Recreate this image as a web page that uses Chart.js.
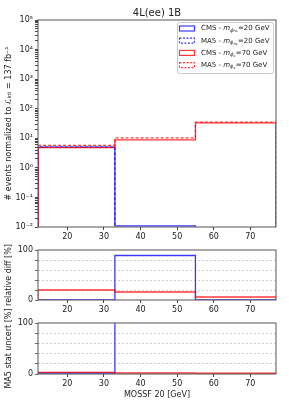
<!DOCTYPE html>
<html>
<head>
<meta charset="utf-8">
<script src="https://cdn.jsdelivr.net/npm/chart.js@4"></script>
<style>
    body { margin: 0; background: #fff; width: 289px; height: 417px; overflow: hidden; position: relative; }
    canvas { position: absolute; left: 0; }
</style>
</head>
<body>
<canvas id="mainChart" width="289" height="245" style="top:0px"></canvas>
<canvas id="diffChart" width="289" height="82" style="top:236px"></canvas>
<canvas id="statChart" width="289" height="95" style="top:306px"></canvas>
<script>
// bin edges of MOSSF 20 [GeV]
const binEdges = [12, 33, 55, 77];
const xTicks = [20, 30, 40, 50, 60, 70];

// events per bin (0 = empty bin)
const cms20 = [5.0, 0.011, 0];
const ma520 = [5.0, 0.0012, 0];
const cms70 = [4.8, 8.9, 33];
const ma570 = [5.8, 10.3, 35];

// relative difference [%]
const relDiff20 = [0, 89, 0];
const relDiff70 = [20, 16, 6];

// MA5 stat uncertainty [%] (second bin of 20 GeV is off the scale, third undefined)
const statUnc20 = [2, 1000, null];
const statUnc70 = [3.3, 2, 1.5];

const seriesNames = ['CMS', 'MA5', 'CMS', 'MA5'];
const seriesMass = [20, 20, 70, 70];
const seriesSub = ['hs', 'hs', 's', 's'];

const BLUE = 'rgba(0,0,255,0.78)';
const RED = 'rgba(255,0,0,0.78)';
const FONT = 'DejaVu Sans';

Chart.defaults.font.family = FONT;
Chart.defaults.font.size = 8;
Chart.defaults.color = '#222';

// turn bin contents into step outline points
function stepPoints(vals, floor) {
    const pts = [{ x: binEdges[0], y: floor }];
    let last = null;
    for (let i = 0; i < vals.length; i++) {
        if (vals[i] === null) return pts;
        const v = vals[i] === 0 ? floor : vals[i];
        pts.push({ x: binEdges[i], y: v });
        last = v;
    }
    pts.push({ x: binEdges[binEdges.length - 1], y: last });
    pts.push({ x: binEdges[binEdges.length - 1], y: floor });
    return pts;
}

function stepSet(vals, floor, color, dashed, order) {
    return {
        data: stepPoints(vals, floor),
        borderColor: color,
        backgroundColor: 'rgba(0,0,0,0)',
        borderWidth: 1.3,
        borderDash: dashed ? [3, 2] : [],
        pointRadius: 0,
        fill: false,
        stepped: 'before',
        order: order
    };
}

const sup = { '-': '⁻', '0': '⁰', '1': '¹', '2': '²', '3': '³', '4': '⁴', '5': '⁵' };
function logLabel(v) {
    const e = Math.round(Math.log10(v));
    if (Math.abs(v - Math.pow(10, e)) > 1e-9 * v) return '';
    return '10' + String(e).split('').map(c => sup[c]).join('');
}

const framePlugin = {
    id: 'frame',
    afterDraw(chart) {
        const a = chart.chartArea;
        const ctx = chart.ctx;
        ctx.save();
        ctx.strokeStyle = '#555';
        ctx.lineWidth = 1;
        ctx.setLineDash([]);
        ctx.strokeRect(a.left, a.top, a.right - a.left, a.bottom - a.top);
        ctx.restore();
    }
};

// title centred over the plot area, like matplotlib
const titlePlugin = {
    id: 'axTitle',
    afterDraw(chart) {
        const a = chart.chartArea;
        const ctx = chart.ctx;
        ctx.save();
        ctx.font = '10px "' + FONT + '"';
        ctx.fillStyle = '#222';
        ctx.textAlign = 'center';
        ctx.textBaseline = 'middle';
        ctx.fillText('4L(ee) 1B', (a.left + a.right) / 2, 13);
        ctx.restore();
    }
};

const legendPlugin = {
    id: 'histLegend',
    afterDraw(chart) {
        const ctx = chart.ctx;
        ctx.save();
        ctx.fillStyle = 'rgba(255,255,255,0.85)';
        ctx.strokeStyle = '#ccc';
        ctx.lineWidth = 1;
        ctx.beginPath();
        ctx.roundRect(177.5, 22.5, 96, 51, 2);
        ctx.fill();
        ctx.stroke();
        ctx.textBaseline = 'middle';
        seriesNames.forEach((name, i) => {
            const cy = 28.5 + i * 12.2;
            ctx.strokeStyle = seriesMass[i] === 20 ? BLUE : RED;
            ctx.setLineDash(name === 'MA5' ? [2, 1.5] : []);
            ctx.lineWidth = 1.2;
            ctx.strokeRect(179.5, cy - 2.5, 15, 5);
            ctx.setLineDash([]);
            ctx.fillStyle = '#222';
            let x = 201;
            ctx.font = '7px "' + FONT + '"';
            const t1 = name + ' - ';
            ctx.fillText(t1, x, cy);
            x += ctx.measureText(t1).width;
            ctx.font = 'italic 7px "' + FONT + '"';
            ctx.fillText('m', x, cy);
            x += ctx.measureText('m').width;
            ctx.font = 'italic 5px "' + FONT + '"';
            ctx.fillText('ϕ', x, cy + 2);
            x += ctx.measureText('ϕ').width;
            ctx.font = 'italic 3.5px "' + FONT + '"';
            ctx.fillText(seriesSub[i], x, cy + 3);
            x += ctx.measureText(seriesSub[i]).width + 0.5;
            ctx.font = '7px "' + FONT + '"';
            ctx.fillText('=' + seriesMass[i] + ' GeV', x, cy);
        });
        ctx.restore();
    }
};

function xScale(height, title) {
    return {
        type: 'linear',
        min: binEdges[0],
        max: binEdges[binEdges.length - 1],
        afterBuildTicks: s => { s.ticks = xTicks.map(v => ({ value: v })); },
        afterFit: s => { s.height = height; },
        ticks: { autoSkip: false, maxRotation: 0, padding: 2, color: '#222' },
        grid: { drawOnChartArea: false, tickLength: 3, tickColor: '#444' },
        border: { display: false },
        title: title ? { display: true, text: title, color: '#222', padding: { top: 0, bottom: 1 } } : { display: false }
    };
}

function pctScale(title) {
    return {
        type: 'linear',
        min: 0,
        max: 100,
        afterBuildTicks: s => { s.ticks = [0, 20, 40, 60, 80, 100].map(v => ({ value: v })); },
        afterFit: s => { s.width = 38; },
        ticks: { autoSkip: false, padding: 2, color: '#222', callback: v => (v === 0 || v === 100) ? v : '' },
        grid: {
            tickLength: 3,
            tickColor: '#444',
            color: c => (c.tick && c.tick.value > 0 && c.tick.value < 100) ? '#c4c4c4' : 'rgba(0,0,0,0)',
            lineWidth: 0.8
        },
        border: { display: false, dash: [2, 2] },
        title: { display: true, text: title, color: '#222', padding: { top: 4, bottom: 0 } }
    };
}

const baseOptions = {
    responsive: false,
    animation: false,
    devicePixelRatio: 1,
    plugins: { legend: { display: false }, tooltip: { enabled: false } }
};

new Chart(document.getElementById('mainChart'), {
    type: 'line',
    data: {
        datasets: [
            stepSet(cms20, 1e-6, BLUE, false, 3),
            stepSet(ma520, 1e-6, BLUE, true, 2),
            stepSet(cms70, 1e-6, RED, false, 1),
            stepSet(ma570, 1e-6, RED, true, 0)
        ]
    },
    options: {
        ...baseOptions,
        layout: { padding: { left: 0, right: 13, top: 20, bottom: 0 } },
        scales: {
            x: xScale(18),
            y: {
                type: 'logarithmic',
                min: 1e-2,
                max: 1e5,
                afterBuildTicks: s => {
                    const t = [];
                    for (let e = -2; e <= 5; e++) {
                        for (let k = 1; k <= 9; k++) {
                            if (e === 5 && k > 1) break;
                            t.push({ value: k * Math.pow(10, e) });
                        }
                    }
                    s.ticks = t;
                },
                afterFit: s => { s.width = 38; },
                ticks: { autoSkip: false, padding: 2, color: '#222', callback: v => logLabel(v) },
                grid: { drawOnChartArea: false, tickLength: 3, tickColor: '#444' },
                border: { display: false },
                title: { display: true, text: '# events normalized to ℒᵢₙₜ = 137 fb⁻¹', color: '#222', padding: { top: 4, bottom: 0 } }
            }
        }
    },
    plugins: [framePlugin, titlePlugin, legendPlugin]
});

new Chart(document.getElementById('diffChart'), {
    type: 'line',
    data: {
        datasets: [
            stepSet(relDiff20, 0, BLUE, false, 1),
            stepSet(relDiff70, 0, RED, false, 0)
        ]
    },
    options: {
        ...baseOptions,
        layout: { padding: { left: 0, right: 13, top: 14, bottom: 0 } },
        scales: { x: xScale(18), y: pctScale('relative diff [%]') }
    },
    plugins: [framePlugin]
});

new Chart(document.getElementById('statChart'), {
    type: 'line',
    data: {
        datasets: [
            stepSet(statUnc20, 0, BLUE, false, 1),
            stepSet(statUnc70, 0, RED, false, 0)
        ]
    },
    options: {
        ...baseOptions,
        layout: { padding: { left: 0, right: 13, top: 17, bottom: 0 } },
        scales: { x: xScale(27, 'MOSSF 20 [GeV]'), y: pctScale('MA5 stat uncert [%]') }
    },
    plugins: [framePlugin]
});
</script>
</body>
</html>
